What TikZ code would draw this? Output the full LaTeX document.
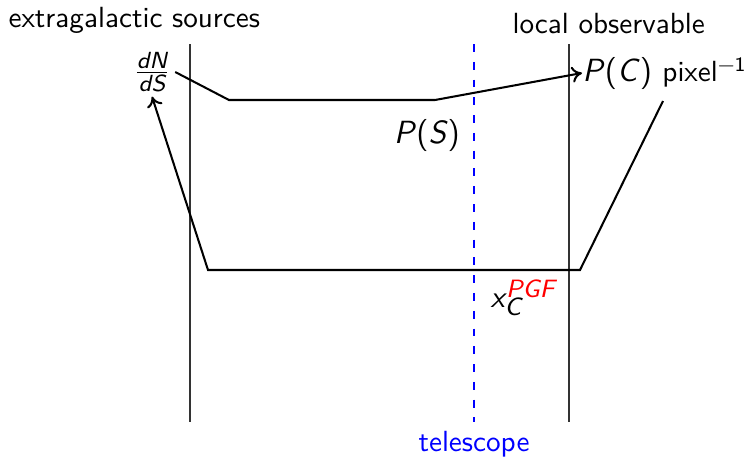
\documentclass[tikz,border=0pt]{standalone}
\usepackage{amsmath}
\usetikzlibrary{arrows.meta}
\tikzset{
  divider/.style={draw=black!80, line width=0.35pt},
  flow/.style={draw=black, line width=0.7pt},
  lbl/.style={inner sep=0pt, font=\sffamily},
  bigl/.style={inner sep=0pt, font=\sffamily\fontsize{11}{13}\selectfont},
}
\newcommand{\vi}[1]{\textit{#1}}
\newcommand{\scr}{\fontsize{8.6}{10}\selectfont}
\begin{document}
\begin{tikzpicture}[x=0.343pt, y=-0.343pt]
\useasboundingbox (0,0) rectangle (744,458);
% dividers
\coordinate (l1) at (190,44); \coordinate (l2) at (190,422);
\coordinate (r1) at (569,44); \coordinate (r2) at (569,422);
\coordinate (t1) at (474,44); \coordinate (t2) at (474,422);
\draw[divider] (l1) -- (l2);
\draw[divider] (r1) -- (r2);
\draw[blue, line width=0.35pt, dash pattern=on 2.7pt off 3.4pt] (t1) -- (t2);
% labels
\node[lbl, anchor=west] (ext) at (8,20) {extragalactic sources};
\node[lbl, anchor=west] (loc) at (512,24) {local observable};
\node[lbl] (dnds) at (152,72) {$\frac{\mbox{\sffamily\itshape\footnotesize dN}}{\mbox{\sffamily\itshape\footnotesize dS}}$};
\node[bigl, anchor=west] (pc) at (582,73) {\vi{P}(\vi{C}) \normalsize pixel\raisebox{0.75ex}{\scriptsize\textminus 1}};
\node[bigl] (ps) at (427,135) {\vi{P}(\vi{S})};
\node[lbl, anchor=base west] (xc) at (490,307) {\itshape\fontsize{10.5}{12}\selectfont x\rlap{\kern0.5pt\raisebox{3.1pt}{\scr\color{red}PGF}}\raisebox{-2.8pt}{\scr C}};
\node[lbl, text=blue] (tel) at (474,444) {telescope};
% upper path
\coordinate (u1) at (229,100);
\coordinate (u2) at (435,100);
\draw[flow, -{To[length=3.5pt,width=5.5pt]}] (dnds.east) ++(4,0) -- (u1) -- (u2) -- (pc.west);
% lower path
\coordinate (w0) at (663,101);
\coordinate (w1) at (580,270);
\coordinate (w2) at (208,270);
\draw[flow, -{To[length=3.5pt,width=5.5pt]}] (w0) -- (w1) -- (w2) -- ([yshift=-1.5pt]dnds.south);
\end{tikzpicture}
\end{document}
